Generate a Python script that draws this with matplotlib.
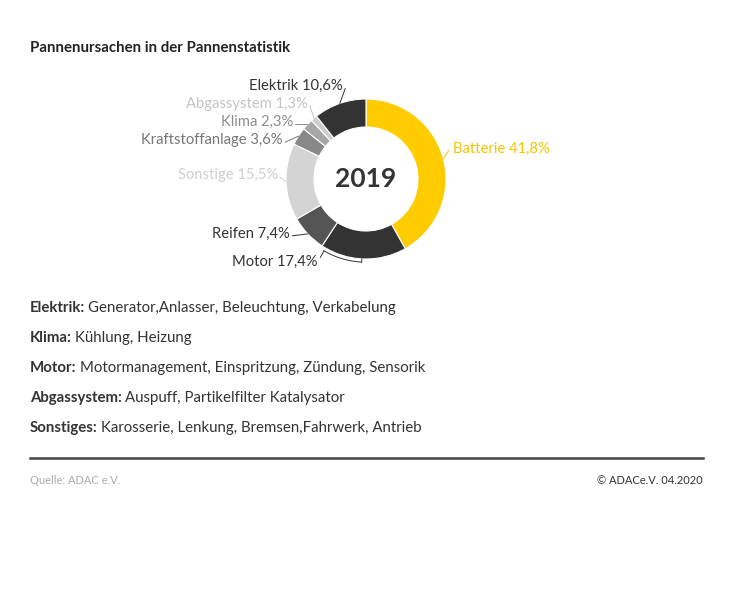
import numpy as np
import matplotlib.pyplot as plt

plt.rcParams['font.family'] = ['Lato', 'DejaVu Sans']

# Daten
kategorien = ['Batterie', 'Motor', 'Reifen', 'Sonstige', 'Kraftstoffanlage',
              'Klima', 'Abgassystem', 'Elektrik']
anteile = [41.8, 17.4, 7.4, 15.5, 3.6, 2.3, 1.3, 10.6]
farben = ['#FFCC00', '#333333', '#555555', '#d4d4d4', '#888888',
          '#a6a6a6', '#cccccc', '#333333']
textfarben = ['#f5c400', '#333333', '#333333', '#cfcfcf', '#777777',
              '#8c8c8c', '#c4c4c4', '#333333']
# Textposition (x, y) relativ zum Ringmittelpunkt, Radius = 1
textpos = {
    'Batterie': (1.09, 0.38),
    'Motor': (-0.60, -1.04),
    'Reifen': (-0.95, -0.68),
    'Sonstige': (-1.10, 0.05),
    'Kraftstoffanlage': (-1.04, 0.49),
    'Klima': (-0.91, 0.71),
    'Abgassystem': (-0.73, 0.94),
    'Elektrik': (-0.29, 1.16),
}

beschreibung = [
    ('Elektrik:', 'Generator,Anlasser, Beleuchtung, Verkabelung'),
    ('Klima:', 'Kühlung, Heizung'),
    ('Motor:', 'Motormanagement, Einspritzung, Zündung, Sensorik'),
    ('Abgassystem:', 'Auspuff, Partikelfilter Katalysator'),
    ('Sonstiges:', 'Karosserie, Lenkung, Bremsen,Fahrwerk, Antrieb'),
]

W, H = 734, 602
fig = plt.figure(figsize=(W / 100, H / 100), dpi=100)
fig.patch.set_facecolor('white')

# Ring-Achse: Mittelpunkt (366,179) px, Radius 80 px
cx, cy, r = 366, 179, 80
ax = fig.add_axes([(cx - 125) / W, 1 - (cy + 125) / H, 250 / W, 250 / H])
ax.set_aspect('equal')
ax.axis('off')

wedges, _ = ax.pie(anteile, colors=farben, startangle=90, counterclock=False,
                   radius=1.0,
                   wedgeprops=dict(width=0.35, edgecolor='white', linewidth=0.8))
ax.set_xlim(-125 / r, 125 / r)
ax.set_ylim(-125 / r, 125 / r)

ax.text(0, 0, '2019', ha='center', va='center', fontsize=19,
        fontweight='bold', color='#333333')

for w, name, wert, tf in zip(wedges, kategorien, anteile, textfarben):
    mid = np.deg2rad((w.theta1 + w.theta2) / 2)
    px, py = np.cos(mid), np.sin(mid)
    tx, ty = textpos[name]
    label = f'{name} {wert:.1f}%'.replace('.', ',')
    ha = 'left' if tx > 0 else 'right'
    ax.text(tx, ty, label, ha=ha, va='center', fontsize=10.6, color=tf)
    lx = tx - 0.06 if tx > 0 else tx + 0.03
    if name == 'Motor':
        # Klammer entlang des Motor-Segments
        t = np.deg2rad(np.linspace(w.theta1 + 3, (w.theta1 + w.theta2) / 2 - 1, 30))
        rr = 1.04
        ax.plot(rr * np.cos(t), rr * np.sin(t), color='#333333', lw=0.7)
        ax.plot([lx, rr * np.cos(t[0])], [ty + 0.06, rr * np.sin(t[0])],
                color='#333333', lw=0.7)
        ax.plot([rr * np.cos(t[-1]), 1.0 * np.cos(t[-1])],
                [rr * np.sin(t[-1]), 1.0 * np.sin(t[-1])], color='#333333', lw=0.7)
    else:
        ax.plot([lx, px * 1.0], [ty - 0.03, py * 1.0], color=tf, lw=0.7)

# Titel
fig.text(30 / W, 1 - 48 / H, 'Pannenursachen in der Pannenstatistik',
         fontsize=10.8, fontweight='bold', color='#222222', va='center')

# Beschreibungen
for i, (fett, normal) in enumerate(beschreibung):
    y = 1 - (308 + 30 * i) / H
    t1 = fig.text(30 / W, y, fett, fontsize=10.8, fontweight='bold',
                  color='#333333', va='center')
    fig.canvas.draw()
    bb = t1.get_window_extent()
    fig.text((bb.x1 + 3) / W, y, normal, fontsize=10.8, color='#333333',
             va='center')

# Linie und Fußzeile
fig.add_artist(plt.Line2D([30 / W, 703 / W], [1 - 458 / H, 1 - 458 / H],
                          color='#444444', lw=1.8))
fig.text(30 / W, 1 - 480 / H, 'Quelle: ADAC e.V.', fontsize=8,
         color='#aaaaaa', va='center')
fig.text(703 / W, 1 - 480 / H, '© ADACe.V. 04.2020', fontsize=8,
         color='#333333', va='center', ha='right')

fig.savefig('out.png', dpi=100)
